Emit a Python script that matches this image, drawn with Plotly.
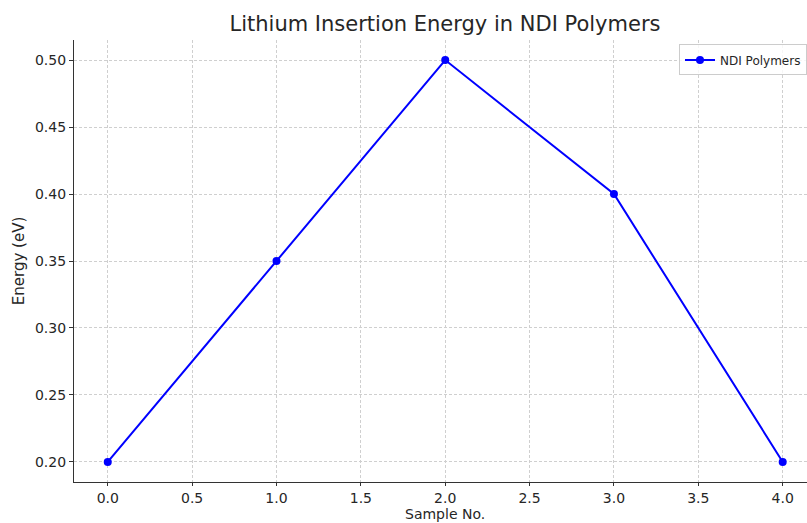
import plotly.graph_objects as go

samples = [0, 1, 2, 3, 4]
energy = [0.20, 0.35, 0.50, 0.40, 0.20]
x_ticks = [0.0, 0.5, 1.0, 1.5, 2.0, 2.5, 3.0, 3.5, 4.0]
y_ticks = [0.20, 0.25, 0.30, 0.35, 0.40, 0.45, 0.50]

FONT = "DejaVu Sans"
TXT = "#262626"
H = 523
T, B = 40, 41
PLOT_H = H - T - B

fig = go.Figure()
fig.add_trace(go.Scatter(
    x=samples, y=energy, mode="lines+markers", name="NDI Polymers",
    line=dict(color="#0000ff", width=2),
    marker=dict(color="#0000ff", size=8),
))

fig.update_layout(
    width=807, height=H,
    margin=dict(l=74, r=0, t=T, b=B),
    paper_bgcolor="white", plot_bgcolor="white",
    font=dict(family=FONT, size=14, color=TXT),
    title=dict(text="Lithium Insertion Energy in NDI Polymers",
               x=445 / 807, xanchor="center", y=1 - 24 / H, yanchor="middle",
               font=dict(size=21, color=TXT, family=FONT)),
    showlegend=True,
    legend=dict(x=1.0, y=0.99, xanchor="right", yanchor="top",
                bgcolor="rgba(255,255,255,0.8)", bordercolor="#cccccc", borderwidth=1,
                font=dict(size=12, color=TXT, family=FONT)),
    xaxis=dict(
        range=[-0.2, 4.144], tickvals=x_ticks, ticktext=[f"{v:.1f}" for v in x_ticks],
        showgrid=True, gridcolor="#cfcfcf", griddash="3px,2px", gridwidth=1,
        showline=True, linecolor="#333333", linewidth=1.3,
        ticks="outside", ticklen=3, tickcolor="#333333", tickwidth=1.2,
        zeroline=False,
        tickfont=dict(size=14, color=TXT, family=FONT),
    ),
    yaxis=dict(
        range=[0.185, 0.515], tickvals=y_ticks, ticktext=[f"{v:.2f}" for v in y_ticks],
        showgrid=True, gridcolor="#cfcfcf", griddash="3px,2px", gridwidth=1,
        showline=True, linecolor="#333333", linewidth=1.3,
        ticks="outside", ticklen=4, tickcolor="#333333", tickwidth=1.2,
        zeroline=False,
        title=dict(text="Energy (eV)", font=dict(size=15, color=TXT, family=FONT), standoff=6),
        tickfont=dict(size=14, color=TXT, family=FONT),
    ),
    annotations=[dict(
        text="Sample No.", xref="paper", yref="paper",
        x=(445 - 74) / (807 - 74), y=-(514 - (H - B)) / PLOT_H,
        xanchor="center", yanchor="middle", showarrow=False, borderpad=0,
        font=dict(size=14, color=TXT, family=FONT),
    )],
)

fig.write_html("out.html", config={"displayModeBar": False},
               post_script="document.body.style.margin='0';document.body.style.padding='0';")
